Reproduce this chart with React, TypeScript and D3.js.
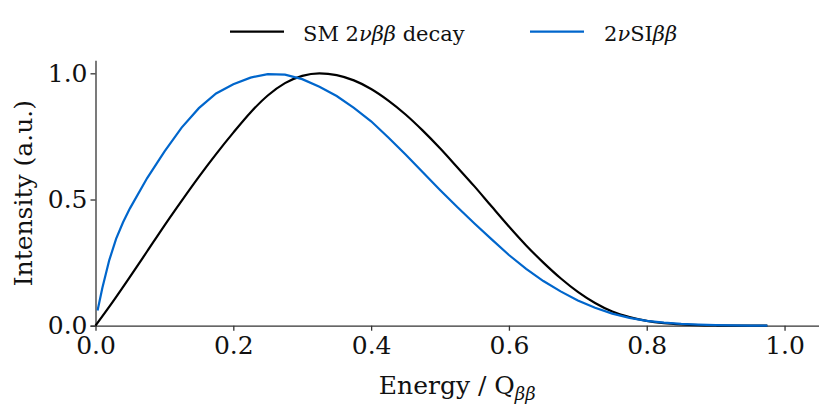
import React, { useEffect, useRef } from 'react';
import * as d3 from 'd3';

// Energy in units of Q_bb
const energySM = [
  0, 0.025, 0.05, 0.075, 0.1, 0.125, 0.15, 0.175, 0.2, 0.225,
  0.25, 0.275, 0.3, 0.325, 0.35, 0.375, 0.4, 0.425, 0.45, 0.475,
  0.5, 0.525, 0.55, 0.575, 0.6, 0.625, 0.65, 0.675, 0.7, 0.725,
  0.75, 0.775, 0.8, 0.825, 0.85, 0.875, 0.9, 0.925, 0.95, 0.975,
];
const intensitySM = [
  0, 0.094, 0.193, 0.295, 0.397, 0.495, 0.59, 0.68, 0.765, 0.845,
  0.912, 0.961, 0.99, 1.0, 0.993, 0.972, 0.938, 0.892, 0.837, 0.773,
  0.703, 0.628, 0.552, 0.472, 0.393, 0.318, 0.25, 0.188, 0.134, 0.09,
  0.056, 0.034, 0.019, 0.01, 0.005, 0.002, 0.0007, 0, 0, 0,
];

const energySI = [
  0.003, 0.01, 0.02, 0.03, 0.04, 0.05, 0.075, 0.1, 0.125,
  0.15, 0.175, 0.2, 0.225, 0.25, 0.275, 0.3, 0.325, 0.35, 0.375,
  0.4, 0.425, 0.45, 0.475, 0.5, 0.525, 0.55, 0.575, 0.6, 0.625,
  0.65, 0.675, 0.7, 0.725, 0.75, 0.775, 0.8, 0.825, 0.85, 0.875,
  0.9, 0.925, 0.95, 0.975,
];
const intensitySI = [
  0.06, 0.15, 0.26, 0.345, 0.41, 0.465, 0.585, 0.69, 0.785,
  0.862, 0.92, 0.957, 0.983, 0.997, 0.995, 0.977, 0.947, 0.91, 0.863,
  0.81, 0.746, 0.678, 0.608, 0.538, 0.47, 0.405, 0.342, 0.28, 0.225,
  0.177, 0.136, 0.1, 0.071, 0.048, 0.031, 0.019, 0.012, 0.007, 0.004,
  0.002, 0.001, 0, 0,
];

const xTicks = [0, 0.2, 0.4, 0.6, 0.8, 1.0];
const yTicks = [0, 0.5, 1.0];

const FONT = '"DejaVu Serif", serif';
const BLUE = '#0066cc';
const AXIS = '#333333';

const App: React.FC = () => {
  const svgRef = useRef<SVGSVGElement>(null);

  useEffect(() => {
    if (!svgRef.current) return;
    const width = 831;
    const height = 417;
    const margin = { top: 60.7, right: 12, bottom: 91.3, left: 95.5 };

    d3.select(svgRef.current).selectAll('*').remove();
    const svg = d3.select(svgRef.current)
      .attr('width', width)
      .attr('height', height)
      .style('font-family', FONT);

    const x = d3.scaleLinear().domain([0, 1.05]).range([margin.left, width - margin.right]);
    const y = d3.scaleLinear().domain([0, 1.05]).range([height - margin.bottom, margin.top]);

    // Axes (left + bottom spines only)
    const xAxis = svg.append('g')
      .attr('transform', `translate(0,${y(0)})`)
      .call(d3.axisBottom(x).tickValues(xTicks).tickFormat(d3.format('.1f')).tickSize(5).tickPadding(6));
    const yAxis = svg.append('g')
      .attr('transform', `translate(${x(0)},0)`)
      .call(d3.axisLeft(y).tickValues(yTicks).tickFormat(d3.format('.1f')).tickSize(5).tickPadding(3));

    [xAxis, yAxis].forEach(ax => {
      ax.select('.domain').attr('stroke', AXIS).attr('stroke-width', 1.3);
      ax.selectAll('.tick line').attr('stroke', AXIS).attr('stroke-width', 1.3);
      ax.selectAll('.tick text')
        .attr('fill', '#111')
        .attr('font-family', FONT)
        .attr('font-size', '25px');
    });
    // extend bottom spine under the y ticks, like the reference
    xAxis.select('.domain').attr('d', `M${x(0) - 5},0.5H${width - margin.right}`);
    yAxis.select('.domain').attr('d', `M0.5,${y(0)}V${margin.top}`);

    // Curves
    const lineSM = d3.line<number>()
      .x((_, i) => x(energySM[i]))
      .y(d => y(d))
      .curve(d3.curveMonotoneX);
    const lineSI = d3.line<number>()
      .x((_, i) => x(energySI[i]))
      .y(d => y(d));

    svg.append('path')
      .datum(intensitySM)
      .attr('d', lineSM)
      .attr('fill', 'none')
      .attr('stroke', '#000')
      .attr('stroke-width', 2.2);

    svg.append('path')
      .datum(intensitySI)
      .attr('d', lineSI)
      .attr('fill', 'none')
      .attr('stroke', BLUE)
      .attr('stroke-width', 2.2);

    // Axis labels
    const xl = svg.append('text')
      .attr('x', (x(0) + x(1.05)) / 2)
      .attr('y', 394)
      .attr('text-anchor', 'middle')
      .attr('font-size', '25px')
      .attr('fill', '#111');
    xl.append('tspan').text('Energy / Q');
    xl.append('tspan')
      .attr('font-size', '18px')
      .attr('font-style', 'italic')
      .attr('dy', 6)
      .text('ββ');

    svg.append('text')
      .attr('transform', `translate(32,${(y(0) + y(1.05)) / 2}) rotate(-90)`)
      .attr('text-anchor', 'middle')
      .attr('font-size', '25px')
      .attr('fill', '#111')
      .text('Intensity (a.u.)');

    // Legend
    const legend = [
      { parts: [['SM 2', false], ['νββ', true], [' decay', false]], color: '#000', x0: 230, tx: 303 },
      { parts: [['2', false], ['ν', true], ['SI', false], ['ββ', true]], color: BLUE, x0: 530, tx: 604 },
    ];
    legend.forEach(item => {
      svg.append('line')
        .attr('x1', item.x0).attr('x2', item.x0 + 54)
        .attr('y1', 31.7).attr('y2', 31.7)
        .attr('stroke', item.color)
        .attr('stroke-width', 2.2);
      const t = svg.append('text')
        .attr('x', item.tx)
        .attr('y', 40.5)
        .attr('font-size', '21px')
        .attr('fill', '#111');
      item.parts.forEach(([s, it]) => {
        t.append('tspan')
          .attr('font-style', it ? 'italic' : 'normal')
          .text(s as string);
      });
    });
  }, []);

  return (
    <div style={{ position: 'absolute', left: 0, top: 0, background: '#fff' }}>
      <svg ref={svgRef}></svg>
    </div>
  );
};

export default App;
